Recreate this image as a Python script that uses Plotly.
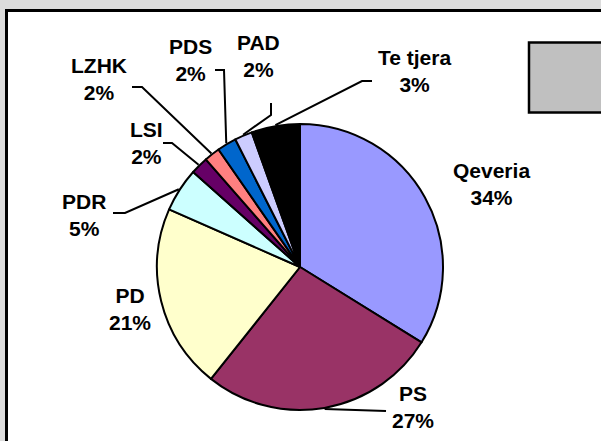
import math
import plotly.graph_objects as go

# slice data, clockwise from 12 o'clock
parties = ["Qeveria", "PS", "PD", "PDR", "LSI", "LZHK", "PDS", "PAD", "Te tjera"]
shares = [34, 27, 21, 5, 2, 1.8, 2.2, 2, 5.5]          # slice sizes
pct_labels = ["34%", "27%", "21%", "5%", "2%", "2%", "2%", "2%", "3%"]  # printed labels
colors = ["#9999FF", "#993366", "#FFFFCC", "#CCFFFF", "#660066",
          "#FF8080", "#0066CC", "#CCCCFF", "#000000"]

W, H = 601, 441
CX, CY, R = 300, 267, 143  # pie centre / radius in pixels


def px(x, y):
    return x / W, 1 - y / H


# label centre (pixels) and optional leader line (elbow, end) in pixels
label_pos = {
    "Qeveria": (491, 184), "PS": (413, 407), "PD": (130, 309),
    "PDR": (84, 215), "LSI": (146, 143), "LZHK": (99, 79),
    "PDS": (190, 60), "PAD": (258, 56), "Te tjera": (414, 71),
}
leaders = {
    "PS": [(386, 411)],
    "PDR": [(125, 213), (113, 213)],
    "LSI": [(172, 143), (163, 143)],
    "LZHK": [(142, 87), (132, 87)],
    "PDS": [(224, 70), (215, 70)],
    "PAD": [(271, 115), (271, 103)],
    "Te tjera": [(362, 81), (372, 81)],
}

x0, y0 = px(CX - R, CY + R)
x1, y1 = px(CX + R, CY - R)

fig = go.Figure(go.Pie(
    labels=parties, values=shares, sort=False, direction="clockwise",
    rotation=0, textinfo="none", hoverinfo="skip", showlegend=False,
    marker=dict(colors=colors, line=dict(color="#000000", width=2)),
    domain=dict(x=[x0, x1], y=[y0, y1]),
))

shapes = [
    # white chart area with thick black frame
    dict(type="rect", xref="paper", yref="paper",
         x0=6.5 / W, x1=620 / W, y0=1 - 10.5 / H, y1=-20 / H,
         fillcolor="white", line=dict(color="black", width=3), layer="below"),
    # empty grey legend box
    dict(type="rect", xref="paper", yref="paper",
         x0=529 / W, x1=620 / W, y0=1 - 42.5 / H, y1=1 - 112.5 / H,
         fillcolor="#C0C0C0", line=dict(color="black", width=2.5), layer="below"),
]

total = sum(shares)
cum = 0
for name, v in zip(parties, shares):
    mid = (cum + v / 2) / total * 2 * math.pi
    cum += v
    if name not in leaders:
        continue
    rx = CX + (R + 1) * math.sin(mid)
    ry = CY - (R + 1) * math.cos(mid)
    pts = [(rx, ry)] + leaders[name]
    path = "M " + " L ".join(f"{px(a, b)[0]},{px(a, b)[1]}" for a, b in pts)
    shapes.append(dict(type="path", xref="paper", yref="paper", path=path,
                       line=dict(color="black", width=2)))

annotations = []
for name, pct in zip(parties, pct_labels):
    lx, ly = px(*label_pos[name])
    annotations.append(dict(
        x=lx, y=ly, xref="paper", yref="paper", showarrow=False,
        xanchor="center", yanchor="middle",
        text=f"{name}<br>{pct}", align="center",
        font=dict(family="Liberation Sans, Arial", size=21, color="black", weight="bold"),
    ))

fig.update_layout(
    width=W, height=H, margin=dict(l=0, r=0, t=0, b=0),
    paper_bgcolor="#DCDCDC", plot_bgcolor="#DCDCDC",
    shapes=shapes, annotations=annotations,
)
# drop the default 8px body margin so the figure sits at the window's corner
fig.write_html("out.html", config={"displayModeBar": False},
               post_script="document.body.style.margin='0';")
